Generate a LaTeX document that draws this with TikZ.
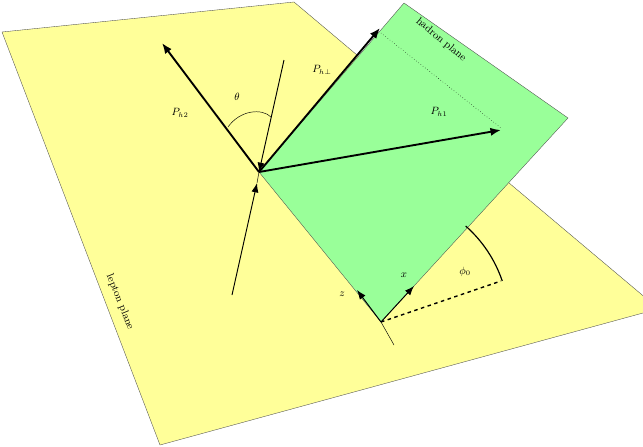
\documentclass[tikz,border=0pt]{standalone}
\usetikzlibrary{arrows.meta}
\definecolor{leptoncol}{RGB}{255,255,153}
\definecolor{hadroncol}{RGB}{153,255,153}
\tikzset{
  vec/.style={line width=1.6pt,-{Latex[length=9pt,width=7pt]}},
  axis/.style={line width=0.8pt,-{Latex[length=8pt,width=6pt]}},
  lbl/.style={font=\small}
}
\begin{document}
\begin{tikzpicture}[x=0.03cm,y=-0.03cm]
        \useasboundingbox (0,0) rectangle (643,446);
        % planes
        \filldraw
          [fill=leptoncol,draw=black!70,line width=0.3pt]
          (2,32) -- (294,2) -- (660,310) -- (660,308) -- (643,313)
          -- (160,445) -- cycle
        ;
        \clip (0,0) rectangle (643,446);
        \filldraw
          [fill=hadroncol,draw=black!70,line width=0.3pt]
          (259,172) -- (404,3) -- (568,118) -- (381,322) -- cycle
        ;
        \coordinate (origin) at (259,172);
        \coordinate (base) at (381,322);
        \coordinate (zend) at (394,345);
        \coordinate (dash end) at (501,281);
        \draw [dotted,thin] (381,33) -- (501,128);
        % vectors
        \draw [vec] (origin) -- (501,130) coordinate (ph1);
        \draw [vec] (origin) -- (380,28) coordinate (phperp);
        \draw [vec] (origin) -- (162,43) coordinate (ph2);
        \draw [axis] (284,60) coordinate (outgoing) -- (origin);
        \draw [axis] (232,295) coordinate (incoming) -- (257,183);
        \draw [thin] (257,183) -- (origin);
        % axes
        \draw [thin] (zend) -- (base);
        \draw [axis] (base) -- (357,290);
        \draw [axis] (base) -- (414,286);
        \draw [line width=1.2pt,dashed] (base) -- (dash end);
        % angles
        \draw [line width=1pt] (base) ++(-48.6:128)
          arc [start angle=-48.6,end angle=-18.7,radius=128]
        ;
        \draw [thin] (228,127) .. controls (240,110) and (262,108) .. (271,117);
        % labels
        \node [lbl] (label ph2) at (180,113) {$P_{h2}$};
        \node [lbl] (label theta) at (237,97) {$\theta$};
        \node [lbl] (label phperp) at (322,70) {$P_{h\perp}$};
        \node [lbl] (label ph1) at (439,112) {$P_{h1}$};
        \node [lbl] (label x) at (404,275) {$x$};
        \node [lbl] (label z) at (342,294) {$z$};
        \node [lbl] (label phi) at (465,272) {$\phi_0$};
        \node [lbl,rotate=-40] (hadron label) at (441,40) {hadron plane};
        \node [lbl,rotate=-68] (lepton label) at (120,302) {lepton plane};
      \end{tikzpicture}
\end{document}
